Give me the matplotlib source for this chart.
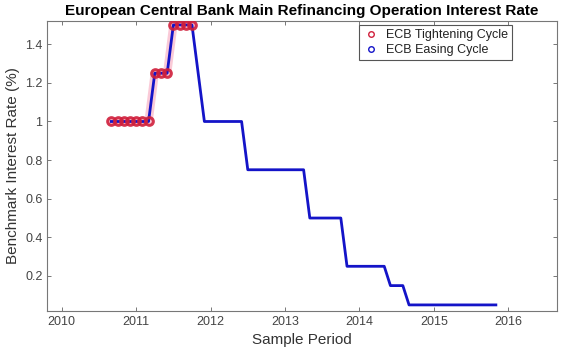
import matplotlib
matplotlib.use('Agg')
import matplotlib.pyplot as plt
from matplotlib.lines import Line2D
import numpy as np

plt.rcParams['font.family'] = ['Liberation Sans', 'DejaVu Sans']

# monthly ECB main refinancing rate, Sep 2010 - Nov 2015
start_year = 2010
start_month = 9
rate = [1.0, 1.0, 1.0, 1.0,                                            # 2010 Sep-Dec
        1.0, 1.0, 1.0, 1.25, 1.25, 1.25, 1.5, 1.5, 1.5, 1.5, 1.25, 1.0,  # 2011
        1.0, 1.0, 1.0, 1.0, 1.0, 1.0, 0.75, 0.75, 0.75, 0.75, 0.75, 0.75,  # 2012
        0.75, 0.75, 0.75, 0.75, 0.5, 0.5, 0.5, 0.5, 0.5, 0.5, 0.25, 0.25,  # 2013
        0.25, 0.25, 0.25, 0.25, 0.25, 0.15, 0.15, 0.15, 0.05, 0.05, 0.05, 0.05,  # 2014
        0.05, 0.05, 0.05, 0.05, 0.05, 0.05, 0.05, 0.05, 0.05, 0.05, 0.05]  # 2015 Jan-Nov
n_tightening = 14   # Sep 2010 - Oct 2011

year_ticks = [2010, 2011, 2012, 2013, 2014, 2015, 2016]
rate_ticks = [0.2, 0.4, 0.6, 0.8, 1.0, 1.2, 1.4]
rate_tick_labels = ['0.2', '0.4', '0.6', '0.8', '1', '1.2', '1.4']

# decimal year for each month
month_index = np.arange(len(rate)) + (start_month - 1)
t = start_year + month_index / 12.0
rate = np.array(rate)

fig = plt.figure(figsize=(5.61, 3.51), dpi=100)
ax = fig.add_axes([0.0843, 0.1148, 0.9086, 0.8262])

red = '#d0203c'
blue = '#1414c8'

ax.plot(t[:n_tightening], rate[:n_tightening], color='#f48aa8', lw=6, alpha=0.45,
        solid_capstyle='round', zorder=1)
ax.plot(t, rate, color=blue, lw=2, zorder=2)
ax.plot(t[:n_tightening], rate[:n_tightening], 'o', ms=5.5, mfc='none', mec=red,
        mew=2.2, alpha=0.9, zorder=3)

ax.set_xlim(2009.806, 2016.655)
ax.set_ylim(0.02, 1.522)
ax.set_xticks(year_ticks)
ax.set_xticklabels([str(y) for y in year_ticks])
ax.set_yticks(rate_ticks)
ax.set_yticklabels(rate_tick_labels)

for s in ax.spines.values():
    s.set_color('#777777')
    s.set_linewidth(0.8)
ax.tick_params(direction='in', length=3, width=0.7, colors='#777777',
               labelcolor='#444444', labelsize=9, top=True, right=True)

ax.set_xlabel('Sample Period', fontsize=11, color='#333333', labelpad=4)
ax.set_ylabel('Benchmark Interest Rate (%)', fontsize=11, color='#333333', labelpad=4)
ax.set_title('European Central Bank Main Refinancing Operation Interest Rate',
             fontsize=11, fontweight='bold', pad=4)

handles = [Line2D([], [], ls='none', marker='o', ms=4, mfc='none', mec=red, mew=1),
           Line2D([], [], ls='none', marker='o', ms=4, mfc='none', mec=blue, mew=1)]
leg = ax.legend(handles, ['ECB Tightening Cycle', 'ECB Easing Cycle'],
                loc='upper right', bbox_to_anchor=(0.912, 0.985), borderaxespad=0,
                fontsize=9, fancybox=False, framealpha=1, edgecolor='#555555',
                handlelength=1.2, handletextpad=0.6, borderpad=0.35, labelspacing=0.2)
leg.get_frame().set_linewidth(0.8)
for txt in leg.get_texts():
    txt.set_color('#222222')

fig.savefig('out.png', dpi=100)
